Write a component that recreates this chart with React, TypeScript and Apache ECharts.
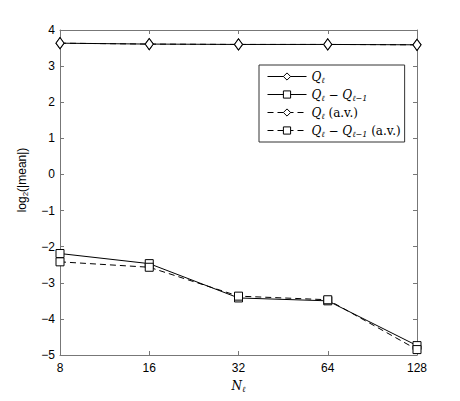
import React, { useEffect, useRef } from "react";
import * as echarts from "echarts";

const categories = ["8", "16", "32", "64", "128"];
const qL = [3.635, 3.61, 3.6, 3.6, 3.59];
const qLdiff = [-2.19, -2.47, -3.42, -3.5, -4.74];
const qLav = [3.635, 3.61, 3.6, 3.6, 3.59];
const qLdiffAv = [-2.42, -2.57, -3.37, -3.47, -4.85];
const yTicks = { min: -5, max: 4, interval: 1 };

const legendText: Record<string, string> = {
  A: "{i|Q}{s|ℓ}",
  B: "{i|Q}{s|ℓ}{r| − }{i|Q}{s|ℓ−1}",
  C: "{i|Q}{s|ℓ}{r| (a.v.)}",
  D: "{i|Q}{s|ℓ}{r| − }{i|Q}{s|ℓ−1}{r| (a.v.)}",
};

const serif = "'DejaVu Serif', 'Liberation Serif', serif";
const rich = {
  i: { fontFamily: serif, fontStyle: "italic" as const, fontSize: 12, lineHeight: 16, color: "#000" },
  s: { fontFamily: serif, fontStyle: "italic" as const, fontSize: 8, lineHeight: 16, padding: [7, 0, 0, 0], color: "#000" },
  r: { fontFamily: serif, fontSize: 12, lineHeight: 16, color: "#000" },
};

export default function App() {
  const ref = useRef<HTMLDivElement>(null);
  useEffect(() => {
    if (!ref.current) return;
    const chart = echarts.init(ref.current, null, { renderer: "svg" });
    const axisColor = "#777";
    const sans = "'Liberation Sans', Arial, sans-serif";
    const mk = (name: string, data: number[], sym: string, size: any, dashed: boolean) => ({
      name,
      type: "line",
      data,
      symbol: sym,
      symbolSize: size,
      showAllSymbol: true,
      lineStyle: { color: "#000", width: 1, type: dashed ? [6, 4] : "solid" },
      itemStyle: { color: "#fff", borderColor: "#000", borderWidth: 1 },
      z: 3,
    });
    const axisLine = { onZero: false, lineStyle: { color: axisColor, width: 1 } };
    chart.setOption({
      animation: false,
      backgroundColor: "#fff",
      grid: { left: 60, right: 43, top: 30, bottom: 46 },
      legend: {
        data: ["A", "B", "C", "D"],
        orient: "vertical",
        left: 259,
        top: 65,
        width: 155,
        itemWidth: 39,
        itemHeight: 9,
        itemGap: 3,
        padding: [4, 4, 4, 8],
        borderColor: "#333",
        borderWidth: 1,
        backgroundColor: "#fff",
        lineStyle: { width: 1 },
        itemStyle: { borderWidth: 1 },
        formatter: (n: string) => legendText[n],
        textStyle: { rich },
      },
      xAxis: [
        {
          type: "category",
          data: categories,
          boundaryGap: false,
          axisLine,
          axisTick: { inside: true, length: 4, lineStyle: { color: axisColor } },
          axisLabel: { color: "#000", fontFamily: sans, fontSize: 12, margin: 7 },
          name: "{i|N}{s|ℓ}",
          nameLocation: "middle",
          nameGap: 22,
          nameTextStyle: { rich },
          splitLine: { show: false },
        },
        {
          type: "category",
          data: categories,
          boundaryGap: false,
          position: "top",
          axisLine,
          axisTick: { inside: true, length: 4, lineStyle: { color: axisColor } },
          axisLabel: { show: false },
          splitLine: { show: false },
        },
      ],
      yAxis: [
        {
          type: "value",
          ...yTicks,
          axisLine: { show: true, ...axisLine },
          axisTick: { show: true, inside: true, length: 4, lineStyle: { color: axisColor } },
          axisLabel: {
            color: "#000",
            fontFamily: sans,
            fontSize: 12,
            margin: 5,
            formatter: (v: number) => String(v).replace("-", "−"),
          },
          splitLine: { show: false },
        },
        {
          type: "value",
          ...yTicks,
          position: "right",
          axisLine: { show: true, ...axisLine },
          axisTick: { show: true, inside: true, length: 4, lineStyle: { color: axisColor } },
          axisLabel: { show: false },
          splitLine: { show: false },
        },
      ],
      graphic: [
        {
          type: "text",
          x: 22,
          y: 180,
          rotation: Math.PI / 2,
          style: {
            text: "log{s|2}(|mean|)",
            fontFamily: sans,
            fontSize: 12,
            fill: "#000",
            align: "center",
            verticalAlign: "middle",
            rich: {
              s: { fontFamily: sans, fontSize: 8, lineHeight: 16, padding: [7, 0, 0, 0], fill: "#000" },
            },
          },
        },
      ],
      series: [
        mk("A", qL, "diamond", [8, 11], false),
        mk("B", qLdiff, "rect", 8, false),
        mk("C", qLav, "diamond", [8, 11], true),
        mk("D", qLdiffAv, "rect", 8, true),
      ],
    });
    return () => chart.dispose();
  }, []);
  return <div ref={ref} style={{ width: 460, height: 401, margin: -8 }} />;
}
